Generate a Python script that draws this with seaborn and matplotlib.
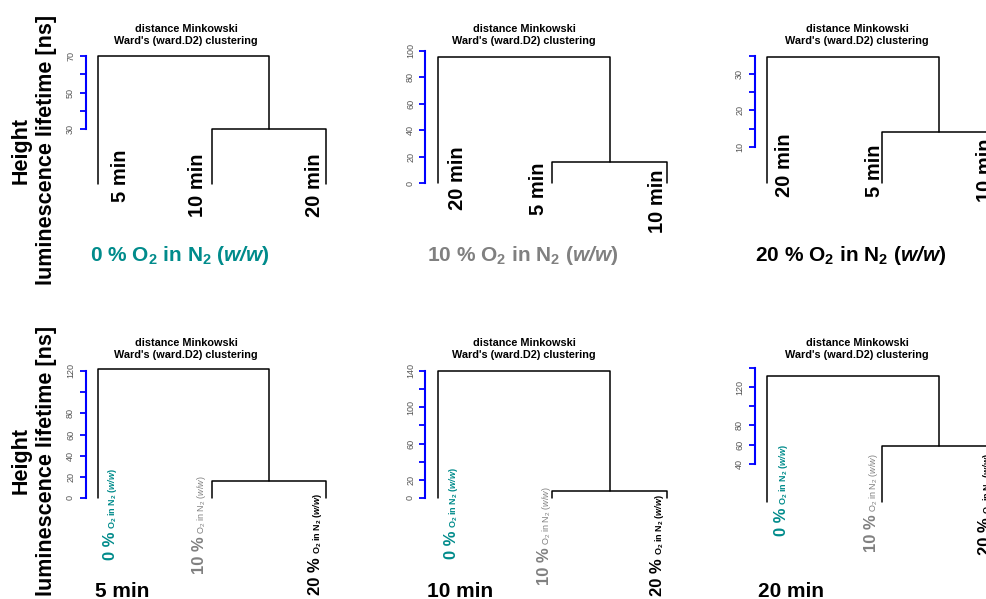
import pandas as pd
import matplotlib
matplotlib.use("Agg")
import matplotlib.pyplot as plt
import seaborn as sns
from matplotlib.transforms import blended_transform_factory, offset_copy

# ==========================================
# Data
# ==========================================
gas_levels = ["0 %", "10 %", "20 %"]
storage_times = ["5 min", "10 min", "20 min"]

# top row: storage times clustered within each O2 level (leaf order left -> right)
top_leaf_order = [["5 min", "10 min", "20 min"],
                  ["20 min", "5 min", "10 min"],
                  ["20 min", "5 min", "10 min"]]
top_pair_height = [30, 16, 14]          # leaves 2 and 3 join here
top_root_height = [70, 95.5, 34.7]      # leaf 1 joins here
top_ticks = [[30, 40, 50, 60, 70],
             [0, 20, 40, 60, 80, 100],
             [10, 15, 20, 25, 30, 35]]
top_tick_labels = [["30", "", "50", "", "70"],
                   ["0", "20", "40", "60", "80", "100"],
                   ["10", "", "20", "", "30", ""]]

# bottom row: O2 levels clustered within each storage time
bottom_leaf_order = [["0 %", "10 %", "20 %"],
                     ["0 %", "10 %", "20 %"],
                     ["0 %", "10 %", "20 %"]]
bottom_pair_height = [16.5, 7.7, 58]
bottom_root_height = [122, 140, 132]
bottom_ticks = [[0, 20, 40, 60, 80, 100, 120],
                [0, 20, 40, 60, 80, 100, 120, 140],
                [40, 60, 80, 100, 120, 140]]
bottom_tick_labels = [["0", "20", "40", "60", "80", "", "120"],
                      ["0", "20", "", "60", "", "100", "", "140"],
                      ["40", "60", "80", "", "120", ""]]

# ==========================================
# Layout / style (pixels of the 987x599 canvas)
# ==========================================
W, H = 987, 599
col_left = [98, 438, 767]
col_right = [326, 667, 996]
row_zero = [[184, 183, 183], [498, 498, 502]]
row_top = [[56, 51, 56], [371, 371, 368]]
title_cx = [186, 524, 857]
title_cy = [35, 349.5]

top_label_dx = [[28, -9, -6], [25, -8, -4], [23, -2, -5]]
top_label_start = [[202, 217, 217], [210, 215, 233], [197, 197, 202]]
bottom_label_dx = [[17, -8, -6], [18, -3, -5], [19, -5, -6]]
bottom_label_end = [[468, 475, 493], [467, 486, 494], [444, 453, 453]]

group_left = [90, 427, 755]
time_left = [95, 427, 758]

gas_colors = {"0 %": "#008b8b", "10 %": "#808080", "20 %": "black"}
gas_small_weight = {"0 %": "bold", "10 %": "normal", "20 %": "bold"}
small_bold = r"O$_\mathbf{2}$ in N$_\mathbf{2}$ ($\mathbfit{w/w}$)"
small_norm = r"O$_\mathrm{2}$ in N$_\mathrm{2}$ ($\mathit{w/w}$)"

sns.set_theme(style="white")
plt.rcParams["font.family"] = ["Liberation Sans", "DejaVu Sans"]
plt.rcParams["text.color"] = "black"
plt.rcParams["mathtext.fontset"] = "custom"
plt.rcParams["mathtext.rm"] = "Liberation Sans"
plt.rcParams["mathtext.it"] = "Liberation Sans:italic"
plt.rcParams["mathtext.bf"] = "Liberation Sans:bold"
plt.rcParams["mathtext.bfit"] = "Liberation Sans:bold:italic"

fig = plt.figure(figsize=(W / 100, H / 100), dpi=100)
renderer = fig.canvas.get_renderer()


def link_frame(pair_h, root_h):
    # leaves sit at 0, 1, 2: leaves 1 and 2 merge first, leaf 0 joins at the root
    return pd.DataFrame({
        "x": [1, 1, 2, 2, 0, 0, 1.5, 1.5],
        "y": [0, pair_h, pair_h, 0, 0, root_h, root_h, pair_h],
        "link": [0, 0, 0, 0, 1, 1, 1, 1],
    })


def draw_panel(row, col, pair_h, root_h, ticks, tick_labels):
    l, r = col_left[col], col_right[col]
    z, t = row_zero[row][col], row_top[row][col]
    ax = fig.add_axes([l / W, 1 - z / H, (r - l) / W, (z - t) / H])
    sns.lineplot(data=link_frame(pair_h, root_h), x="x", y="y", units="link",
                 estimator=None, sort=False, color="black", lw=1.1,
                 legend=False, ax=ax)
    for ln in ax.lines:
        ln.set_clip_on(False)
    ax.set_xlim(0, 2)
    ax.set_ylim(0, ticks[-1])
    ax.set(xlabel="", ylabel="")
    ax.set_xticks([])
    ax.set_yticks(ticks, tick_labels)
    ax.patch.set_alpha(0)
    for s in ["top", "right", "bottom"]:
        ax.spines[s].set_visible(False)
    ax.spines["left"].set_position(("outward", 9))
    ax.spines["left"].set_color("blue")
    ax.spines["left"].set_linewidth(1.5)
    ax.spines["left"].set_bounds(ticks[0], ticks[-1])
    ax.tick_params(axis="y", left=True, colors="blue", labelcolor="#555555",
                   length=4.5, width=1.3, labelsize=6.5, labelrotation=90, pad=3)
    for lab in ax.get_yticklabels():
        lab.set_va("center")
    return ax


def leaf_transform(ax, dx):
    base = blended_transform_factory(ax.transData, fig.transFigure)
    return offset_copy(base, fig=fig, x=dx, y=0, units="dots")


# top row
for c in range(3):
    ax = draw_panel(0, c, top_pair_height[c], top_root_height[c],
                    top_ticks[c], top_tick_labels[c])
    for i, name in enumerate(top_leaf_order[c]):
        ax.text(i, 1 - top_label_start[c][i] / H, name,
                transform=leaf_transform(ax, top_label_dx[c][i]),
                rotation=90, rotation_mode="anchor", ha="left", va="baseline",
                fontsize=14.5, fontweight="bold", clip_on=False)
    gas = gas_levels[c]
    fig.text(group_left[c] / W, 1 - 261 / H, gas + " " + small_bold,
             ha="left", va="baseline", fontsize=15, fontweight="bold",
             color=gas_colors[gas])

# bottom row
for c in range(3):
    ax = draw_panel(1, c, bottom_pair_height[c], bottom_root_height[c],
                    bottom_ticks[c], bottom_tick_labels[c])
    for i, gas in enumerate(bottom_leaf_order[c]):
        tr = leaf_transform(ax, bottom_label_dx[c][i])
        w = gas_small_weight[gas]
        small = ax.text(i, 1 - bottom_label_end[c][i] / H,
                        small_bold if w == "bold" else small_norm,
                        transform=tr, rotation=90, rotation_mode="anchor",
                        ha="right", va="baseline", fontsize=6.5, fontweight=w,
                        color=gas_colors[gas], clip_on=False)
        bb = small.get_window_extent(renderer)
        ax.text(i, (bb.y0 - 3) / fig.bbox.height, gas, transform=tr,
                rotation=90, rotation_mode="anchor", ha="right", va="baseline",
                fontsize=12, fontweight="bold", color=gas_colors[gas],
                clip_on=False)
    fig.text(time_left[c] / W, 1 - 597 / H, storage_times[c],
             ha="left", va="baseline", fontsize=15, fontweight="bold")

# panel titles
for r in range(2):
    for c in range(3):
        fig.text(title_cx[c] / W, 1 - title_cy[r] / H,
                 "distance Minkowski\nWard's (ward.D2) clustering",
                 ha="center", va="center", fontsize=7.8, fontweight="bold",
                 linespacing=1.25)

# shared y titles
for cy in [150, 461]:
    fig.text(34 / W, 1 - cy / H, "Height\nluminescence lifetime [ns]",
             rotation=90, ha="center", va="center", multialignment="center",
             fontsize=15.5, fontweight="bold", linespacing=1.25)

fig.savefig("out.png", dpi=100)
